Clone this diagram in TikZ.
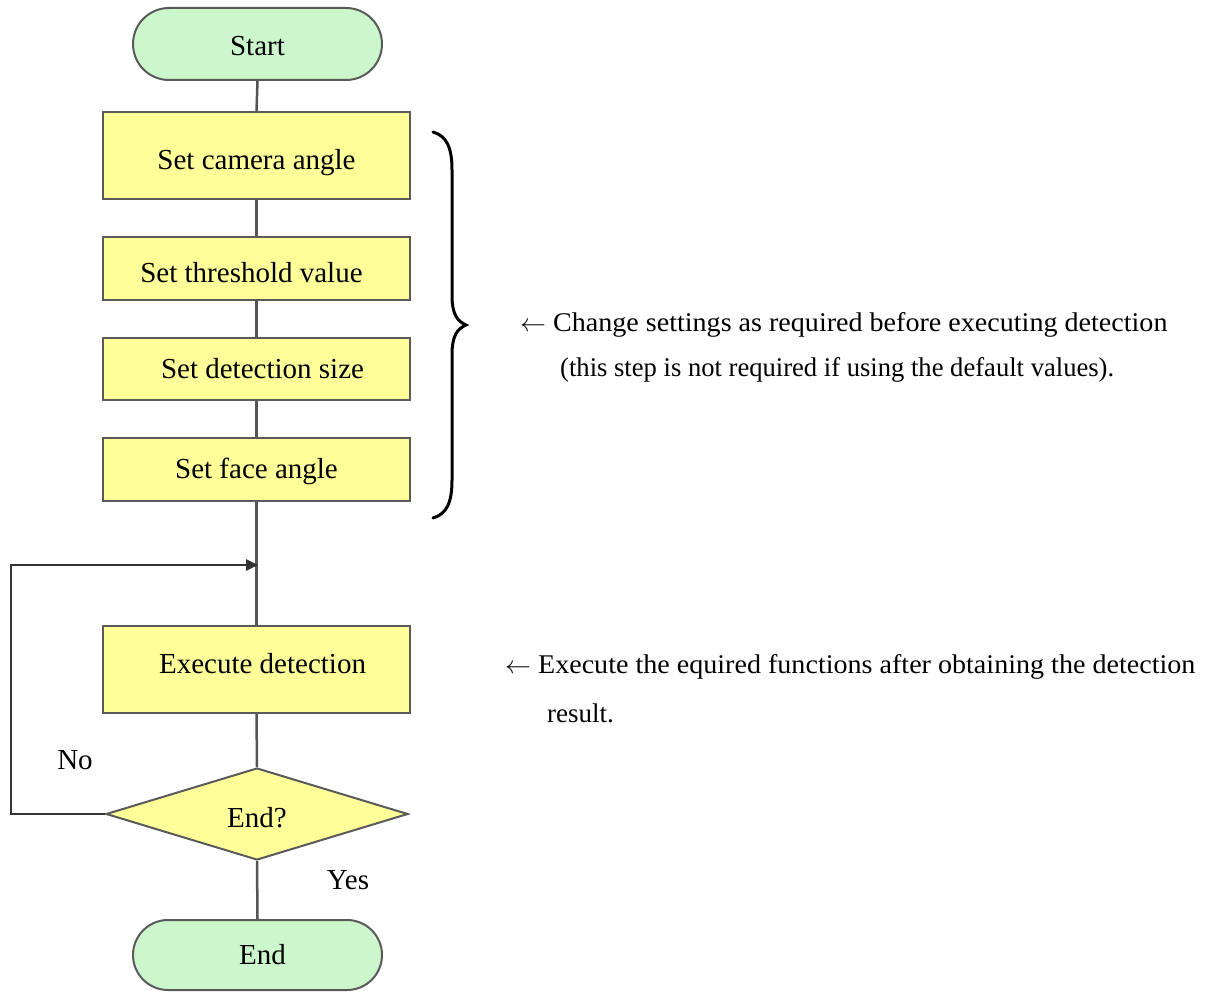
\documentclass[tikz,border=0pt]{standalone}
\usepackage{fontspec}
\setmainfont{Liberation Serif}
\usetikzlibrary{shapes.misc,shapes.geometric,arrows.meta}
\definecolor{termfill}{HTML}{CCF7CC}
\definecolor{boxfill}{HTML}{FFFF99}
\definecolor{edge}{HTML}{5A5A5A}
\definecolor{conn}{HTML}{555555}
\begin{document}
\begin{tikzpicture}[x=1pt,y=-1pt,
  base/.style={draw=edge, line width=2pt, inner sep=0pt, font=\fontsize{29}{34}\selectfont, text=black},
  term/.style={base, rounded rectangle, fill=termfill, minimum width=249pt},
  stepbox/.style={base, rectangle, fill=boxfill, minimum width=307pt},
  decision/.style={base, diamond, fill=boxfill, minimum width=302pt, minimum height=92pt},
  link/.style={draw=conn, line width=2.5pt},
  note/.style={anchor=base west, inner sep=0pt, font=\fontsize{27}{32}\selectfont},
  lbl/.style={inner sep=0pt, font=\fontsize{29}{34}\selectfont}]
\useasboundingbox (0,0) rectangle (1207,992);

\node[term, minimum height=72pt, text height=23pt, text depth=0pt] (start) at (257.5,44) {Start};
\node[stepbox, minimum height=87pt, text height=35pt, text depth=6.5pt] (b1) at (256.5,155.5) {Set camera angle};
\node[stepbox, minimum height=63pt, text height=34pt, text depth=6.5pt] (b2) at (256.5,268.5) {\hspace*{-10pt}Set threshold value};
\node[stepbox, minimum height=62pt, text height=25pt, text depth=6.5pt] (b3) at (256.5,369) {\hspace*{12pt}Set detection size};
\node[stepbox, minimum height=63pt, text height=25pt, text depth=6.5pt] (b4) at (256.5,469.5) {Set face angle};
\node[stepbox, minimum height=87pt, text height=20pt, text depth=12pt] (ex) at (256.5,669.5) {\hspace*{12pt}Execute detection};
\node[decision, text height=27pt, text depth=0pt] (dec) at (257,814) {End?};
\node[term, minimum height=70pt] (end) at (257.5,955) {\hspace*{10pt}End};

\coordinate (merge) at (258,565);

\draw[link] (start.south) -- (b1.north);
\draw[link] (b1.south) -- (b2.north);
\draw[link] (b2.south) -- (b3.north);
\draw[link] (b3.south) -- (b4.north);
\draw[link] (b4.south) -- (ex.north);
\draw[link] (ex.south) -- (dec.north);
\draw[link] (dec.south) -- (end.north);
\draw[link, draw=black!80, -{Triangle[length=12pt,width=11pt]}] (dec.west) -- ++(-94,0) |- (merge);

\node[lbl] (no) at (75,760) {No};
\node[lbl] (yes) at (348,880) {Yes};

\draw[line width=3pt, line cap=round] (433,132) .. controls (447,136) and (452,148) .. (452,170)
  -- (452,295) .. controls (452,314) and (457,321) .. (466,325)
  .. controls (457,329) and (452,336) .. (452,355)
  -- (452,480) .. controls (452,502) and (447,514) .. (433,518);

\node[note] (n1) at (520,331) {\scalebox{1.04}[1]{$\leftarrow$ Change settings as required before executing detection}};
\node[note] (n2) at (560,376) {\scalebox{0.985}[1]{(this step is not required if using the default values).}};
\node[note] (n3) at (505,673) {\scalebox{1.04}[1]{$\leftarrow$ Execute the equired functions after obtaining the detection}};
\node[note] (n4) at (547,722) {result.};
\end{tikzpicture}
\end{document}
